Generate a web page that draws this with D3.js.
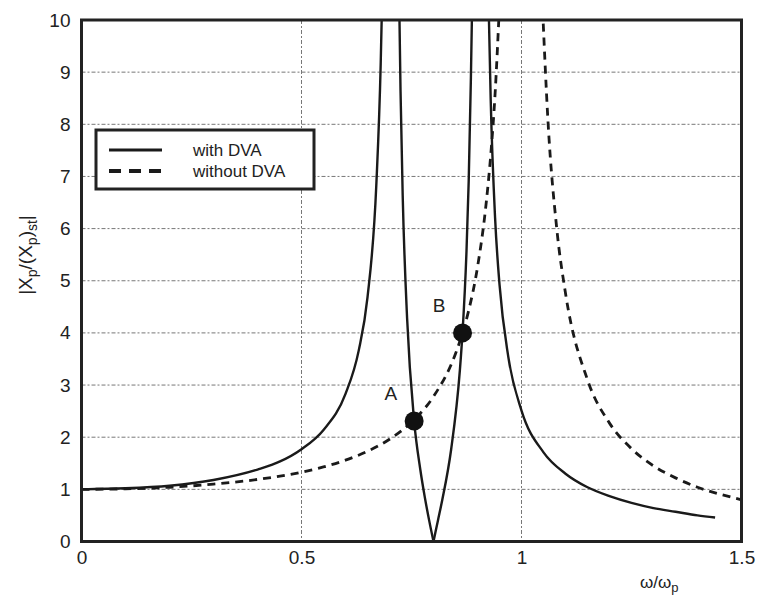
<!DOCTYPE html>
<html>
    <head>
        <title>DVA response</title>
        <script src="https://d3js.org/d3.v7.min.js"></script>
    </head>
    <style>
        body {
            margin: 0;
            background: #fff;
        }
        svg text {
            font-family: "Liberation Sans", Arial, sans-serif;
            fill: #222;
        }
    </style>
    <body>

        <div id="chart"></div>

        <script>

            // Frequency ratio w/wp and amplitude ratio |Xp/(Xp)st|
            // with DVA: three branches split at the resonances, middle one split at the notch
            const withLowRatio  = [0, 0.1, 0.2, 0.3, 0.4, 0.45, 0.5, 0.55, 0.6, 0.63, 0.65, 0.67, 0.68, 0.683];
            const withLowMag    = [1.0, 1.02, 1.07, 1.18, 1.38, 1.53, 1.77, 2.14, 2.83, 3.66, 4.68, 6.83, 9.16, 10.3];

            const withMidARatio = [0.722, 0.725, 0.73, 0.74, 0.756, 0.77, 0.78, 0.79, 0.8];
            const withMidAMag   = [10.4, 8.67, 6.63, 4.28, 2.31, 1.38, 0.86, 0.41, 0];

            const withMidBRatio = [0.8, 0.81, 0.82, 0.84, 0.86, 0.866, 0.875, 0.88, 0.885, 0.888];
            const withMidBMag   = [0, 0.40, 0.80, 1.76, 3.29, 4.01, 5.57, 6.91, 8.89, 10.4];

            const withHighRatio = [0.925, 0.93, 0.94, 0.95, 0.97, 1.0, 1.05, 1.1, 1.15, 1.2, 1.25, 1.3, 1.35, 1.4, 1.44];
            const withHighMag   = [10.4, 8.47, 6.20, 4.93, 3.54, 2.51, 1.71, 1.30, 1.04, 0.87, 0.74, 0.64, 0.57, 0.50, 0.46];

            // without DVA
            const withoutLowRatio  = [0, 0.1, 0.2, 0.3, 0.4, 0.5, 0.55, 0.6, 0.65, 0.7, 0.75, 0.8, 0.85, 0.866, 0.88, 0.9, 0.92, 0.93, 0.94, 0.95];
            const withoutLowMag    = [1.0, 1.01, 1.04, 1.10, 1.19, 1.33, 1.43, 1.56, 1.73, 1.96, 2.29, 2.78, 3.60, 4.0, 4.43, 5.26, 6.51, 7.40, 8.59, 10.3];

            const withoutHighRatio = [1.048, 1.06, 1.08, 1.1, 1.15, 1.2, 1.25, 1.3, 1.35, 1.4, 1.45, 1.5];
            const withoutHighMag   = [10.2, 8.09, 6.01, 4.76, 3.10, 2.27, 1.78, 1.45, 1.22, 1.04, 0.91, 0.80];

            // Marked intersection points
            const pointLabels = ["A", "B"];
            const pointRatio  = [0.756, 0.866];
            const pointMag    = [2.31, 4.0];

            const xTicks = [0, 0.5, 1, 1.5];
            const yTicks = [0, 1, 2, 3, 4, 5, 6, 7, 8, 9, 10];

            const legendLabels = ["with DVA", "without DVA"];

            // Dimensions
            const width = 758, height = 595;
            const plotLeft = 81.5, plotRight = 741.5, plotTop = 20, plotBottom = 541.5;

            const svg = d3.select("#chart")
                .append("svg")
                .attr("width", width)
                .attr("height", height);

            const x = d3.scaleLinear().domain([0, 1.5]).range([plotLeft, plotRight]);
            const y = d3.scaleLinear().domain([0, 10]).range([plotBottom, plotTop]);

            svg.append("clipPath")
                .attr("id", "plot-clip")
                .append("rect")
                .attr("x", plotLeft)
                .attr("y", plotTop)
                .attr("width", plotRight - plotLeft)
                .attr("height", plotBottom - plotTop);

            // Grid lines
            svg.append("g")
                .selectAll("line")
                .data(yTicks.filter(d => d > 0 && d < 10))
                .join("line")
                .attr("x1", plotLeft)
                .attr("x2", plotRight)
                .attr("y1", d => y(d))
                .attr("y2", d => y(d))
                .attr("stroke", "#777")
                .attr("stroke-width", 1)
                .attr("stroke-dasharray", "4,2,2,2");

            svg.append("g")
                .selectAll("line")
                .data(xTicks.filter(d => d > 0 && d < 1.5))
                .join("line")
                .attr("x1", d => x(d))
                .attr("x2", d => x(d))
                .attr("y1", plotTop)
                .attr("y2", plotBottom)
                .attr("stroke", "#777")
                .attr("stroke-width", 1)
                .attr("stroke-dasharray", "4,2,2,2");

            // Axes (labels only)
            const yAxis = svg.append("g")
                .attr("transform", `translate(${plotLeft},0)`)
                .call(d3.axisLeft(y).tickValues(yTicks).tickSize(0).tickPadding(11));
            yAxis.select(".domain").remove();
            yAxis.selectAll("text")
                .style("font-size", "19px")
                .style("font-family", "'Liberation Sans', Arial, sans-serif")
                .attr("fill", "#222");

            const xAxis = svg.append("g")
                .attr("transform", `translate(0,${plotBottom})`)
                .call(d3.axisBottom(x).tickValues(xTicks).tickFormat(d3.format("~g")).tickSize(0).tickPadding(9));
            xAxis.select(".domain").remove();
            xAxis.selectAll("text")
                .style("font-size", "19px")
                .style("font-family", "'Liberation Sans', Arial, sans-serif")
                .attr("fill", "#222");

            // Curves
            const line = d3.line()
                .x(d => x(d[0]))
                .y(d => y(d[1]))
                .curve(d3.curveMonotoneX);

            const zip = (a, b) => a.map((v, i) => [v, b[i]]);

            const solidBranches = [
                zip(withLowRatio, withLowMag),
                zip(withMidARatio, withMidAMag),
                zip(withMidBRatio, withMidBMag),
                zip(withHighRatio, withHighMag)
            ];
            const dashedBranches = [
                zip(withoutLowRatio, withoutLowMag),
                zip(withoutHighRatio, withoutHighMag)
            ];

            const curves = svg.append("g").attr("clip-path", "url(#plot-clip)");

            curves.selectAll(".dashed")
                .data(dashedBranches)
                .join("path")
                .attr("class", "dashed")
                .attr("d", line)
                .attr("fill", "none")
                .attr("stroke", "#1a1a1a")
                .attr("stroke-width", 2.8)
                .attr("stroke-dasharray", "8,6");

            curves.selectAll(".solid")
                .data(solidBranches)
                .join("path")
                .attr("class", "solid")
                .attr("d", line)
                .attr("fill", "none")
                .attr("stroke", "#1a1a1a")
                .attr("stroke-width", 2.4);

            // Points A and B
            svg.append("g")
                .selectAll("circle")
                .data(pointLabels)
                .join("circle")
                .attr("cx", (d, i) => x(pointRatio[i]))
                .attr("cy", (d, i) => y(pointMag[i]))
                .attr("r", 9.5)
                .attr("fill", "#111");

            svg.append("g")
                .selectAll("text")
                .data(pointLabels)
                .join("text")
                .attr("x", (d, i) => x(pointRatio[i]) - 17)
                .attr("y", (d, i) => y(pointMag[i]) - 21)
                .attr("text-anchor", "end")
                .style("font-size", "19px")
                .text(d => d);

            // Frame
            svg.append("rect")
                .attr("x", plotLeft)
                .attr("y", plotTop)
                .attr("width", plotRight - plotLeft)
                .attr("height", plotBottom - plotTop)
                .attr("fill", "none")
                .attr("stroke", "#222")
                .attr("stroke-width", 3);

            // Legend
            const legend = svg.append("g");
            legend.append("rect")
                .attr("x", 96)
                .attr("y", 130)
                .attr("width", 218)
                .attr("height", 59)
                .attr("fill", "#fff")
                .attr("stroke", "#222")
                .attr("stroke-width", 3);

            legend.selectAll("line")
                .data(legendLabels)
                .join("line")
                .attr("x1", 109)
                .attr("x2", 162)
                .attr("y1", (d, i) => 150 + i * 21)
                .attr("y2", (d, i) => 150 + i * 21)
                .attr("stroke", "#1a1a1a")
                .attr("stroke-width", (d, i) => i ? 4 : 3)
                .attr("stroke-dasharray", (d, i) => i ? "12,8" : null);

            legend.selectAll("text")
                .data(legendLabels)
                .join("text")
                .attr("x", 193)
                .attr("y", (d, i) => 156 + i * 21)
                .style("font-size", "17px")
                .text(d => d);

            // Axis titles
            const xTitle = svg.append("text")
                .attr("x", 640)
                .attr("y", 588)
                .style("font-size", "17px");
            xTitle.append("tspan").text("ω/ω");
            xTitle.append("tspan").attr("dy", 4).style("font-size", "13px").text("p");

            const yTitle = svg.append("text")
                .attr("transform", "translate(32,255) rotate(-90)")
                .attr("text-anchor", "middle")
                .style("font-size", "19px");
            yTitle.append("tspan").text("|X");
            yTitle.append("tspan").attr("dy", 5).style("font-size", "14px").text("p");
            yTitle.append("tspan").attr("dy", -5).text("/(X");
            yTitle.append("tspan").attr("dy", 5).style("font-size", "14px").text("p");
            yTitle.append("tspan").attr("dy", -5).text(")");
            yTitle.append("tspan").attr("dy", 5).style("font-size", "14px").text("st");
            yTitle.append("tspan").attr("dy", -5).text("|");

        </script>

    </body>
</html>
